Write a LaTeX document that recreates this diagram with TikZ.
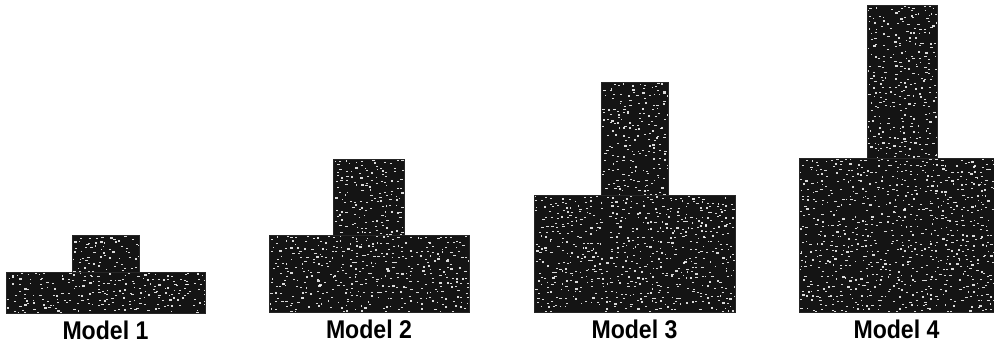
\documentclass[tikz,border=0pt]{standalone}
\usepackage{fontspec}
\setmainfont{Liberation Sans}
\usetikzlibrary{positioning}

\begin{document}
\begin{tikzpicture}[x=1pt, y=-1pt,
    slab/.style={rectangle, draw=black!85, line width=1pt, fill=black!92,
        inner sep=0pt, outer sep=0pt,
        path picture={
            \foreach \sx in {0,5,...,205} {
                \foreach \sy in {0,5,...,160} {
                    \pgfmathsetmacro{\keep}{rnd}
                    \ifdim\keep pt<0.66pt
                        \fill[white, opacity=0.85]
                            ([shift={(\sx+4*rnd,\sy+4*rnd)}]path picture bounding box.north west)
                            rectangle ++(1.3+1.4*rnd,0.9+0.7*rnd);
                    \fi
                }
            }
        }},
    lbl/.style={font=\fontsize{21}{24}\selectfont\bfseries, inner sep=0pt}]
    \pgfmathsetseed{4711}
    \useasboundingbox (0,0) rectangle (994,349);

    % Bases
    \node [slab, anchor=north west, minimum width=199pt, minimum height=41pt]  (base1) at (6,272)   {};
    \node [slab, anchor=north west, minimum width=200pt, minimum height=77pt]  (base2) at (269,235) {};
    \node [slab, anchor=north west, minimum width=201pt, minimum height=117pt] (base3) at (534,195) {};
    \node [slab, anchor=north west, minimum width=195pt, minimum height=154pt] (base4) at (799,158) {};

    % Towers
    \node [slab, minimum width=67pt, minimum height=37pt]  (tower1) [above=0pt of base1] {};
    \node [slab, minimum width=71pt, minimum height=76pt]  (tower2) [above=0pt of base2] {};
    \node [slab, minimum width=67pt, minimum height=113pt] (tower3) [above=0pt of base3] {};
    \node [slab, minimum width=70pt, minimum height=153pt] (tower4) [above=0pt of base4, xshift=5.5pt] {};

    % Labels
    \node [lbl] (lbl1) [below=8pt of base1] {\scalebox{1.1}[1.22]{Model 1}};
    \node [lbl] (lbl2) [below=8pt of base2] {\scalebox{1.1}[1.22]{Model 2}};
    \node [lbl] (lbl3) [below=8pt of base3] {\scalebox{1.1}[1.22]{Model 3}};
    \node [lbl] (lbl4) [below=8pt of base4] {\scalebox{1.1}[1.22]{Model 4}};
\end{tikzpicture}
\end{document}
